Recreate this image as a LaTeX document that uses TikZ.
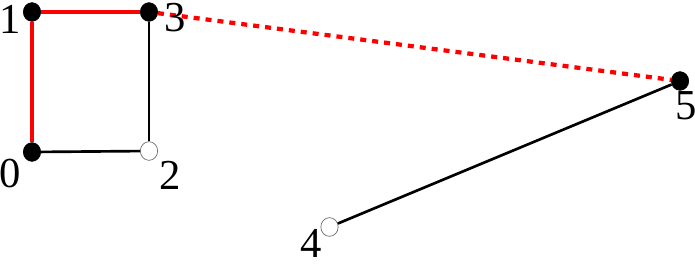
\documentclass[tikz,border=0pt]{standalone}
\usepackage{fontspec}
\usetikzlibrary{shapes.geometric}
\setmainfont{Liberation Serif}
\begin{document}
\begin{tikzpicture}[x=0.75pt,y=-0.75pt,
  vtx/.style={ellipse,draw=black,line width=0.5pt,minimum width=13pt,minimum height=14pt,inner sep=0pt},
  full/.style={vtx,fill=black},
  hollow/.style={vtx,draw=black!60,fill=white},
  lbl/.style={font=\fontsize{32}{32}\selectfont,inner sep=0pt},
  redline/.style={red,line width=3.2pt},
  blkline/.style={black,line width=2pt},
  reddot/.style={red,line width=3.2pt,dash pattern=on 4.5pt off 4.5pt}]
\useasboundingbox (0,0) rectangle (695,264);
\node[full] (n1) at (32,12) {};
\node[full] (n3) at (149,12) {};
\node[full] (n0) at (32,152) {};
\node[hollow] (n2) at (149,151) {};
\node[full] (n5) at (680,81) {};
\node[hollow] (n4) at (329.5,227) {};
\draw[reddot] (n3) -- (n5);
\draw[redline] (n1) -- (n3);
\draw[redline] (n1) -- (n0);
\draw[blkline] (n0) -- (n2);
\draw[blkline] (n3) -- (n2);
\draw[blkline] (n4) -- (n5);
\node[lbl] (l1) at (10,19) {1};
\node[lbl] (l3) at (175,18) {3};
\node[lbl] (l0) at (10,174) {0};
\node[lbl] (l2) at (170,175) {2};
\node[lbl] (l4) at (311,243) {4};
\node[lbl] (l5) at (686,106) {5};
\end{tikzpicture}
\end{document}
